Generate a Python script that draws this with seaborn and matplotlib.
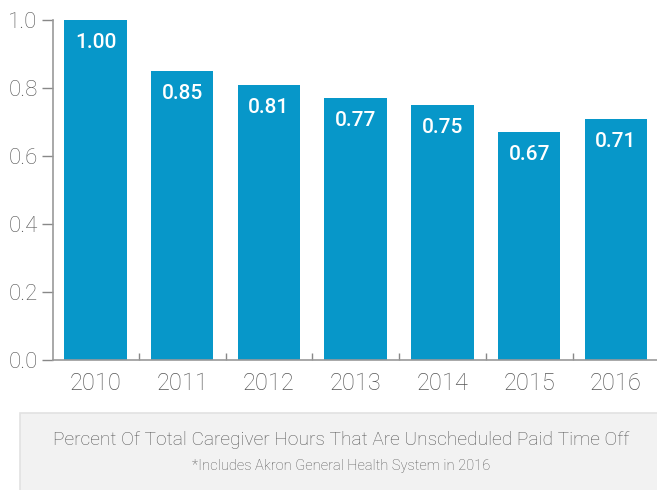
import matplotlib

matplotlib.use("Agg")

import matplotlib.pyplot as plt
import pandas as pd
import seaborn as sns
from matplotlib.patches import Rectangle

# Data
years = ["2010", "2011", "2012", "2013", "2014", "2015", "2016"]
values = [1.00, 0.85, 0.81, 0.77, 0.75, 0.67, 0.71]
value_labels = ["1.00", "0.85", "0.81", "0.77", "0.75", "0.67", "0.71"]
y_ticks = [0.0, 0.2, 0.4, 0.6, 0.8, 1.0]

title = "Percent Of Total Caregiver Hours That Are Unscheduled Paid Time Off"
footnote = "*Includes Akron General Health System in 2016"

BAR_COLOR = "#0797c9"
GRAY = "#555555"

sns.set_style("white")
plt.rcParams["font.family"] = ["Roboto", "DejaVu Sans"]

df = pd.DataFrame({"year": years, "value": values})

fig = plt.figure(figsize=(6.57, 4.9), dpi=100)
ax = fig.add_axes([53 / 657, 130 / 490, 1 - 53 / 657 + 0.01, 340 / 490])

sns.barplot(data=df, x="year", y="value", color=BAR_COLOR, width=0.72,
            saturation=1, linewidth=0, ax=ax)

ax.bar_label(ax.containers[0], labels=value_labels, padding=-23,
             color="white", fontsize=15, fontweight="medium")

ax.set_ylim(0, 1.0)
ax.set_xlim(-0.49, 6.55)
ax.set_yticks(y_ticks)
ax.set_yticklabels([f"{t:.1f}" for t in y_ticks])
ax.set_xlabel("")
ax.set_ylabel("")

# minor ticks between bars, pointing up from the baseline
ax.set_xticks([i + 0.5 for i in range(len(years) - 1)], minor=True)
ax.tick_params(axis="x", which="major", length=0, pad=9, labelsize=17,
               labelcolor=GRAY)
ax.tick_params(axis="x", which="minor", direction="in", length=5, width=1,
               color="#888888", bottom=True)
ax.tick_params(axis="y", which="major", direction="out", length=8, width=1,
               color="#888888", left=True, labelsize=16, labelcolor=GRAY, pad=3)
for lbl in ax.get_xticklabels() + ax.get_yticklabels():
    lbl.set_fontweight("light")

for side in ["top", "right"]:
    ax.spines[side].set_visible(False)
for side in ["left", "bottom"]:
    ax.spines[side].set_color("#999999")
    ax.spines[side].set_linewidth(1.2)

# caption box below the chart
box = Rectangle((20 / 657, -0.02), 1.0, 77 / 490 + 0.02,
                transform=fig.transFigure, facecolor="#f2f2f2",
                edgecolor="#e2e2e2", linewidth=1.2, zorder=0)
fig.patches.append(box)

fig.text(341 / 657, 1 - 440 / 490, title, ha="center", va="center",
         fontsize=13.8, color=GRAY, fontweight="light")
fig.text(341 / 657, 1 - 466 / 490, footnote, ha="center", va="center",
         fontsize=10.5, color=GRAY, fontweight="light")

fig.savefig("out.png", dpi=100)
